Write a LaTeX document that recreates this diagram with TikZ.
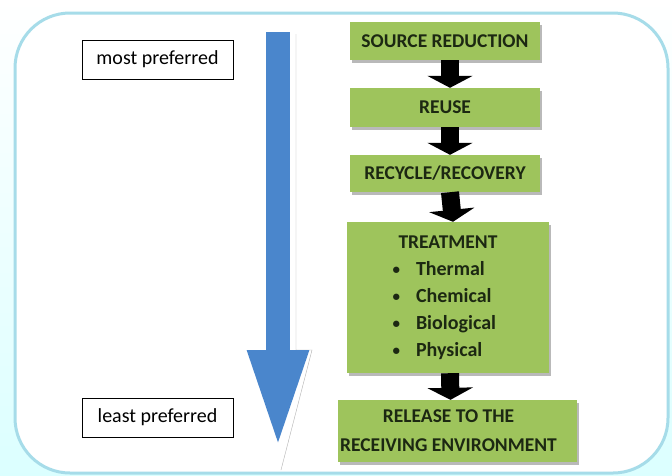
\documentclass[tikz,border=0pt]{standalone}
\usepackage{fontspec}
\setmainfont{Carlito}
\usetikzlibrary{arrows.meta, positioning, shadows}

\definecolor{framecyan}{HTML}{A6DCE9}
\definecolor{stepgreen}{HTML}{9EC45C}
\definecolor{textgreen}{HTML}{1C2812}
\definecolor{flowblue}{HTML}{4A86CC}

\newcommand{\dotitem}{{\fontsize{15}{15}\selectfont\raisebox{1pt}{\textbullet}}}

\begin{document}
\begin{tikzpicture}[
  x=1pt, y=-1pt, % work in pixel-like units, top-down
  stepbox/.style={fill=stepgreen, text=textgreen, align=center, inner sep=0pt,
    font=\fontsize{19.5}{29}\selectfont\bfseries,
    drop shadow={shadow xshift=2pt, shadow yshift=-3pt, fill=gray!55, opacity=1}},
  rankbox/.style={draw, thick, inner sep=0pt, minimum width=151, minimum height=39,
    font=\fontsize{20}{22}\selectfont},
  flow/.style={line width=18, -{Triangle[width=45pt, length=12pt]}},
  bigflow/.style={flowblue, line width=24, -{Triangle[width=54pt, length=102pt]}}]

  \useasboundingbox (0,0) rectangle (672,475);
  \fill[top color=white, bottom color=cyan!14] (0,0) rectangle (672,475);
  \draw[framecyan, line width=3, fill=white, rounded corners=55] (15,13) rectangle (668,473);

  % ranking labels
  \node[rankbox] (most) at (157.5,59.5) {most preferred};
  \node[rankbox] (least) at (157.5,417.5) {least preferred};

  % big preference arrow, with its outline shadow
  \coordinate (top) at (278,32);
  \coordinate (tip) at (278,452);
  \draw[gray!60, thin] (296,34) -- (296,350) -- (312,350) -- (281,470);
  \draw[bigflow] (top) -- (tip);

  % the hierarchy
  \node[stepbox, minimum width=190, minimum height=38] (source) at (445,41) {SOURCE REDUCTION};
  \node[stepbox, minimum width=190, minimum height=39] (reuse) at (445,107.5) {REUSE};
  \node[stepbox, minimum width=190, minimum height=37] (recycle) at (445,173.5) {RECYCLE/RECOVERY};
  \node[stepbox, minimum width=202, minimum height=151] (treatment) at (448,297.5) {%
    \fontsize{20}{27}\selectfont
    \begin{tabular}{@{}c@{\hspace{16pt}}l@{}}
      \multicolumn{2}{c}{\fontsize{19.5}{27}\selectfont TREATMENT}\\
      \dotitem & Thermal\\
      \dotitem & Chemical\\
      \dotitem & Biological\\
      \dotitem & Physical
    \end{tabular}};
  \node[stepbox, minimum width=239, minimum height=62] (release) at (457.5,431)
    {RELEASE TO THE\hspace*{18pt}\\RECEIVING ENVIRONMENT\hspace*{18pt}};

  \draw[flow] ([xshift=5pt]source.south) -- ([xshift=5pt]reuse.north);
  \draw[flow] ([xshift=5pt]reuse.south) -- ([xshift=5pt]recycle.north);
  \draw[flow] ([xshift=5pt]recycle.south) -- ([xshift=5pt]treatment.north);
  \draw[flow] ([xshift=2pt]treatment.south) -- ([xshift=-7pt]release.north);
\end{tikzpicture}
\end{document}
